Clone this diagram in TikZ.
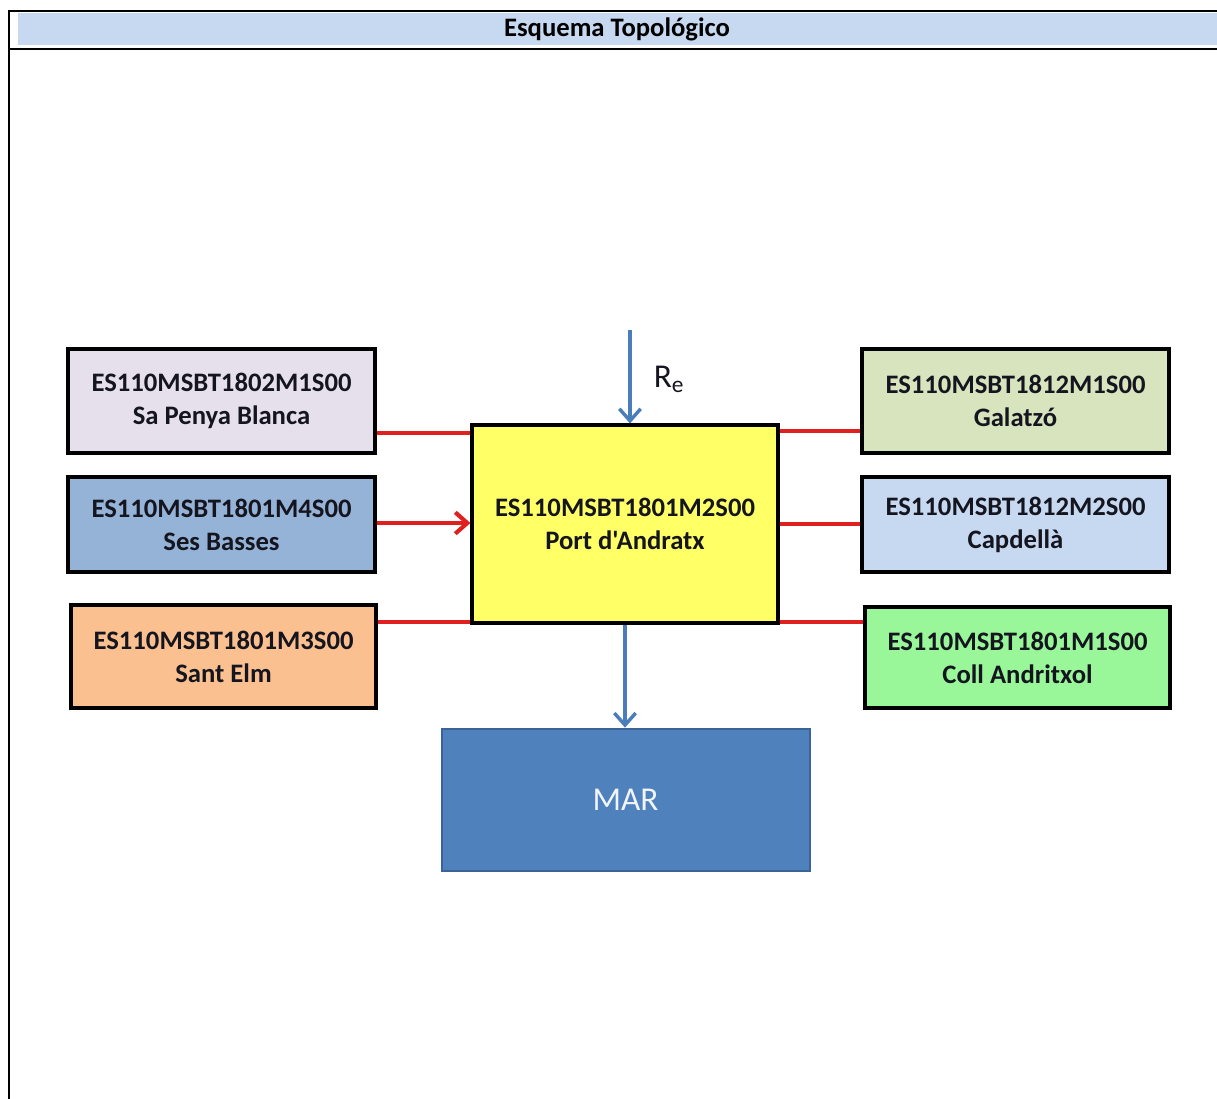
\documentclass[tikz,border=0pt]{standalone}
\usepackage{fontspec}
\newfontfamily\calibrifont{Carlito}
\usetikzlibrary{arrows.meta}
\definecolor{titlebar}{HTML}{C6D9F0}
\definecolor{cspb}{HTML}{E6E0EC}
\definecolor{cses}{HTML}{95B3D7}
\definecolor{celm}{HTML}{FAC090}
\definecolor{cport}{HTML}{FFFF66}
\definecolor{cgal}{HTML}{D7E4BD}
\definecolor{ccap}{HTML}{C6D9F1}
\definecolor{ccoll}{HTML}{99F799}
\definecolor{cmar}{HTML}{4F81BD}
\definecolor{cmarline}{HTML}{3A6496}
\definecolor{redl}{HTML}{E0201F}
\definecolor{bluel}{HTML}{4A7EBB}
\definecolor{txt}{HTML}{15151F}
\begin{document}
\begin{tikzpicture}[x=0.75pt,y=-0.75pt,
  station/.style={draw=black,line width=2.9pt,
     text=txt,font=\calibrifont\fontsize{20}{24.8}\selectfont\bfseries,align=center,inner sep=0pt},
  redline/.style={draw=redl,line width=3.1pt},
  blueline/.style={draw=bluel,line width=2.6pt,-{Straight Barb[length=9pt,width=16pt,line width=2.6pt]}},
  frame/.style={draw=black,line width=1.7pt}]
\useasboundingbox (0,0) rectangle (1217,1099);
% frame and title
\fill[titlebar] (18,13) rectangle (1217,45);
\draw[frame] (1217,11) -- (9,11) -- (9,1099);
\draw[frame] (9,49) -- (1217,49);
\node[font=\calibrifont\fontsize{20}{24}\selectfont\bfseries] (title) at (617,29) {Esquema Topológico};
% stations
\node[station,fill=cspb,minimum width=230pt,minimum height=78pt] (spb) at (221.5,401) {ES110MSBT1802M1S00\\Sa Penya Blanca};
\node[station,fill=cses,minimum width=230pt,minimum height=71pt] (ses) at (221.5,524.5) {ES110MSBT1801M4S00\\Ses Basses};
\node[station,fill=celm,minimum width=229pt,minimum height=77pt] (elm) at (223.5,656.5) {ES110MSBT1801M3S00\\Sant Elm};
\node[station,fill=cport,minimum width=229pt,minimum height=148pt] (port) at (625,524) {ES110MSBT1801M2S00\\Port d'Andratx};
\node[station,fill=cgal,minimum width=230pt,minimum height=78pt] (gal) at (1015.5,401) {ES110MSBT1812M1S00\\Galatzó};
\node[station,fill=ccap,minimum width=230pt,minimum height=71pt] (cap) at (1015.5,524.5) {ES110MSBT1812M2S00\\Capdellà};
\node[station,fill=ccoll,minimum width=229pt,minimum height=76pt] (coll) at (1017.5,657.5) {ES110MSBT1801M1S00\\Coll Andritxol};
\node[draw=cmarline,line width=1.5pt,fill=cmar,minimum width=276pt,minimum height=107pt,
   text=white!92!cmar,font=\calibrifont\fontsize{25}{28}\selectfont] (mar) at (625.5,800) {MAR};
% red links
\draw[redline] (spb.east |- 0,433) -- (port.west |- 0,433);
\draw[redline,-{Straight Barb[length=9pt,width=16pt,line width=3.1pt]}] (ses.east |- 0,523) -- (port.west |- 0,523);
\draw[redline] (elm.east |- 0,622) -- (port.west |- 0,622);
\draw[redline] (port.east |- 0,431) -- (gal.west |- 0,431);
\draw[redline] (port.east |- 0,524) -- (cap.west |- 0,524);
\draw[redline] (port.east |- 0,622) -- (coll.west |- 0,622);
% blue arrows
\coordinate (rein) at (630,330);
\draw[blueline] (rein) -- (rein |- port.north);
\node[font=\calibrifont\fontsize{25}{28}\selectfont,text=txt] (re) at (669,379) {R\textsubscript{e}};
\draw[blueline] (port.south -| 625,0) -- (mar.north -| 625,0);
\end{tikzpicture}
\end{document}
